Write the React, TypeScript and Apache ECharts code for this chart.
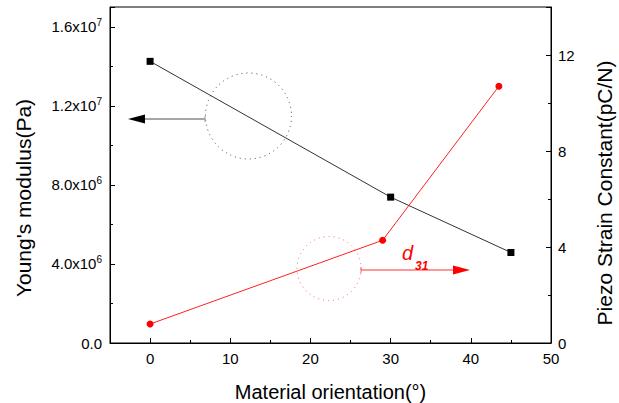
import React, { useEffect, useRef } from "react";
import * as echarts from "echarts";

const orientationBlack = [0, 30, 45];
const youngsModulus = [1.425e7, 7.38e6, 4.58e6];
const orientationRed = [0, 29, 43.5];
const piezoD31 = [0.79, 4.28, 10.7];
const xMajorTicks = [0, 10, 20, 30, 40, 50];
const xMinorTicks = [5, 15, 25, 35, 45];

const FONT = "Liberation Sans, Arial, sans-serif";

export default function App() {
  const ref = useRef<HTMLDivElement>(null);
  useEffect(() => {
    if (!ref.current) return;
    const chart = echarts.init(ref.current, null, { renderer: "svg" });
    const leftFmt = (v: number) => {
      if (v === 0) return "{a|0.0}";
      const e = Math.floor(Math.log10(v) + 1e-9);
      const m = (v / Math.pow(10, e)).toFixed(1);
      return `{a|${m}x10}{s|${e}}`;
    };
    chart.setOption({
      animation: false,
      backgroundColor: "#fff",
      grid: {
        left: 110, right: 68, top: 7, bottom: 60,
        show: true, borderColor: "#000", borderWidth: 1, backgroundColor: "transparent",
        outerBoundsMode: "none", containLabel: false,
      },
      xAxis: [
        {
          type: "value",
          min: -5,
          max: 50,
          name: "Material orientation(°)",
          nameLocation: "middle",
          nameGap: 39,
          nameTextStyle: { fontFamily: FONT, fontSize: 20, color: "#000" },
          axisLine: { show: true, onZero: false, lineStyle: { color: "#000", width: 1 } },
          axisTick: { show: true, inside: true, length: 5, customValues: xMajorTicks, lineStyle: { color: "#000" } },
          axisLabel: { customValues: xMajorTicks, fontFamily: FONT, fontSize: 15, color: "#000", margin: 8 },
          splitLine: { show: false },
        },
        {
          type: "value",
          min: -5,
          max: 50,
          position: "bottom",
          axisLine: { show: false, onZero: false },
          axisTick: { show: true, inside: true, length: 3, customValues: xMinorTicks, lineStyle: { color: "#000" } },
          axisLabel: { show: false },
          splitLine: { show: false },
        },
      ],
      yAxis: [
        {
          type: "value",
          min: 0,
          max: 1.7e7,
          interval: 4e6,
          axisLine: { show: true, onZero: false, lineStyle: { color: "#000" } },
          axisTick: { show: true, inside: true, length: 5, lineStyle: { color: "#000" } },
          minorTick: { show: true, splitNumber: 2, length: 3, lineStyle: { color: "#000" } },
          axisLabel: {
            formatter: leftFmt,
            margin: 8,
            color: "#000",
            showMaxLabel: false,
            rich: {
              a: { fontFamily: FONT, fontSize: 15, color: "#000", lineHeight: 18 },
              s: { fontFamily: FONT, fontSize: 10, color: "#000", verticalAlign: "top", lineHeight: 18, padding: [0, 0, 10, 0] },
            },
          },
          splitLine: { show: false },
        },
        {
          type: "value",
          min: 0,
          max: 14,
          interval: 4,
          position: "right",
          axisLine: { show: true, onZero: false, lineStyle: { color: "#000" } },
          axisTick: { show: true, inside: true, length: 5, lineStyle: { color: "#000" } },
          minorTick: { show: true, splitNumber: 2, length: 3, lineStyle: { color: "#000" } },
          axisLabel: { fontFamily: FONT, fontSize: 15, color: "#000", margin: 7, showMaxLabel: false },
          splitLine: { show: false },
        },
      ],
      series: [
        {
          type: "line",
          yAxisIndex: 0,
          data: orientationBlack.map((x, i) => [x, youngsModulus[i]]),
          symbol: "rect",
          symbolSize: 7,
          lineStyle: { color: "#333", width: 1 },
          itemStyle: { color: "#000" },
        },
        {
          type: "line",
          yAxisIndex: 1,
          data: orientationRed.map((x, i) => [x, piezoD31[i]]),
          symbol: "circle",
          symbolSize: 7,
          lineStyle: { color: "#ff2020", width: 1 },
          itemStyle: { color: "#ff0000" },
        },
      ],
      graphic: [
        { type: "text", x: 23, y: 198, rotation: Math.PI / 2, style: { text: "Young's modulus(Pa)", fill: "#000", font: `21px ${FONT}`, textAlign: "center", textVerticalAlign: "middle" } },
        { type: "text", x: 604, y: 193, rotation: Math.PI / 2, style: { text: "Piezo Strain Constant(pC/N)", fill: "#000", font: `21px ${FONT}`, textAlign: "center", textVerticalAlign: "middle" } },
        { type: "circle", shape: { cx: 248.5, cy: 116, r: 43 }, style: { fill: "none", stroke: "#444", lineWidth: 1, lineDash: [1, 4] } },
        { type: "line", shape: { x1: 205, y1: 119, x2: 142, y2: 119 }, style: { stroke: "#888", lineWidth: 1.5 } },
        { type: "line", shape: { x1: 205, y1: 116, x2: 205, y2: 122 }, style: { stroke: "#999", lineWidth: 1 } },
        { type: "polygon", shape: { points: [[128, 119], [145, 114.5], [145, 123.5]] }, style: { fill: "#000" } },
        { type: "circle", shape: { cx: 329, cy: 268.5, r: 32 }, style: { fill: "none", stroke: "#ff6060", lineWidth: 1, lineDash: [1, 4] } },
        { type: "line", shape: { x1: 361, y1: 270, x2: 455, y2: 270 }, style: { stroke: "#ff3030", lineWidth: 1 } },
        { type: "line", shape: { x1: 361, y1: 267, x2: 361, y2: 273 }, style: { stroke: "#ff6060", lineWidth: 1 } },
        { type: "polygon", shape: { points: [[470, 270], [453, 265.5], [453, 274.5]] }, style: { fill: "#ff0000" } },
        { type: "text", x: 402, y: 253, style: { text: "d", fill: "#ff0000", font: `italic 20px ${FONT}`, textVerticalAlign: "middle" } },
        { type: "text", x: 415, y: 266, style: { text: "31", fill: "#ff0000", font: `italic bold 12px ${FONT}`, textVerticalAlign: "middle" } },
      ],
    });
    return () => chart.dispose();
  }, []);
  return <div ref={ref} style={{ position: "fixed", left: 0, top: 0, width: 619, height: 403, background: "#fff" }} />;
}
